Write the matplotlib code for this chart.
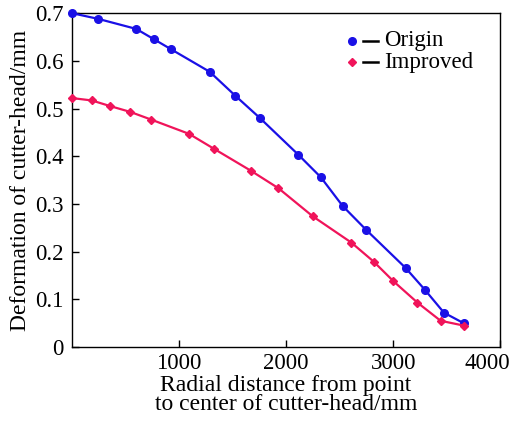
import matplotlib.pyplot as plt
import matplotlib.transforms as mtransforms

plt.rcParams["font.family"] = ["Liberation Serif", "DejaVu Serif"]
plt.rcParams["mathtext.fontset"] = "stix"

# Origin cutter-head deformation
origin_x = [0, 246, 600, 768, 928, 1287, 1525, 1756, 2115, 2324, 2527, 2746,
            3115, 3296, 3474, 3658]
origin_y = [0.700, 0.688, 0.667, 0.645, 0.624, 0.577, 0.527, 0.480, 0.403,
            0.356, 0.296, 0.246, 0.166, 0.120, 0.072, 0.050]

# Improved cutter-head deformation
improved_x = [0, 185, 359, 544, 738, 1093, 1331, 1668, 1928, 2249, 2609, 2818,
              3002, 3227, 3443, 3658]
improved_y = [0.522, 0.517, 0.505, 0.493, 0.477, 0.447, 0.415, 0.370, 0.333,
              0.274, 0.219, 0.179, 0.138, 0.093, 0.055, 0.045]

BLUE = "#1a10e6"
RED = "#f0145a"
FS = 16.5

fig = plt.figure(figsize=(5.16, 4.25), dpi=100)
ax = fig.add_axes([0.1395, 0.1835, 0.83, 0.7855])

ax.plot(origin_x, origin_y, "-o", color=BLUE, lw=1.6, markersize=5.5,
        clip_on=False, zorder=3)
ax.plot(improved_x, improved_y, "-D", color=RED, lw=1.6, markersize=3.8,
        clip_on=False, zorder=3)

ax.set_xlim(0, 4000)
ax.set_ylim(0, 0.7)
ax.set_xticks([1000, 2000, 3000, 4000])
ax.set_yticks([0, 0.1, 0.2, 0.3, 0.4, 0.5, 0.6, 0.7])
ax.set_yticklabels(["0", "0.1", "0.2", "0.3", "0.4", "0.5", "0.6", "0.7"])
ax.tick_params(axis="both", direction="in", length=5, width=1, labelsize=FS,
               top=False, right=False)
ax.tick_params(axis="x", pad=4)
ax.tick_params(axis="y", pad=6)
for sp in ax.spines.values():
    sp.set_linewidth(1.0)

# last x label sits a little inside the figure edge
fig.canvas.draw()
last = ax.get_xticklabels()[-1]
last.set_transform(last.get_transform() +
                   mtransforms.ScaledTranslation(-13 / 100, 0, fig.dpi_scale_trans))

ax.set_xlabel("Radial distance from point\nto center of cutter-head/mm",
              fontsize=17, linespacing=0.9, labelpad=1)
ax.set_ylabel("Deformation of cutter-head/mm", fontsize=17, labelpad=3)

# legend: coloured marker, short black dash, label
for yy, mk, col, ms, name in [(0.917, "o", BLUE, 5.5, "Origin"),
                              (0.853, "D", RED, 3.8, "Improved")]:
    ax.plot([0.654], [yy], mk, color=col, markersize=ms, transform=ax.transAxes)
    ax.plot([0.679, 0.714], [yy, yy], "-", color="black", lw=1.8,
            transform=ax.transAxes)
    ax.text(0.728, yy, name, transform=ax.transAxes, fontsize=FS,
            va="center", ha="left")

fig.savefig("out.png", dpi=100)
